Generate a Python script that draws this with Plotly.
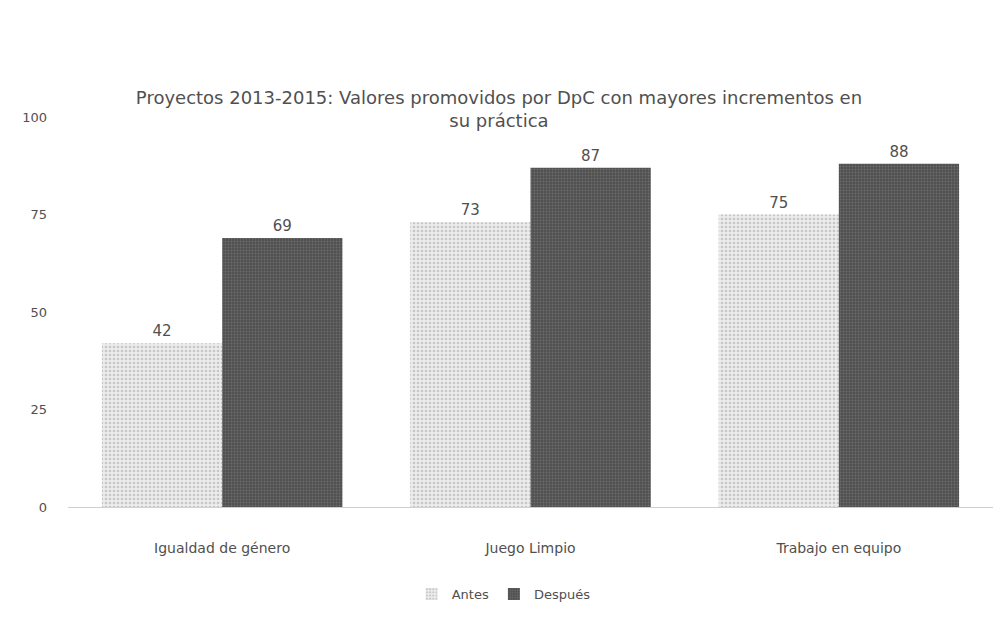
import plotly.graph_objects as go

categories = ["Igualdad de género", "Juego Limpio", "Trabajo en equipo"]
antes = [42, 73, 75]
despues = [69, 87, 88]
y_ticks = [0, 25, 50, 75, 100]

font_family = "DejaVu Sans, Liberation Sans, Arial, sans-serif"
txt_color = "#505050"

fig = go.Figure()
fig.add_trace(go.Bar(
    name="Antes", x=categories, y=antes,
    text=[str(v) for v in antes], textposition="outside",
    textfont=dict(size=15, color=txt_color, family=font_family),
    marker=dict(color="#e4e4e4",
                pattern=dict(shape=".", fgcolor="#a0a0a0", bgcolor="#ececec", size=4, solidity=0.35),
                line=dict(width=0)),
    cliponaxis=False,
))
fig.add_trace(go.Bar(
    name="Después", x=categories, y=despues,
    text=[str(v) for v in despues], textposition="outside",
    textfont=dict(size=15, color=txt_color, family=font_family),
    marker=dict(color="#5a5a5a",
                pattern=dict(shape=".", fgcolor="#8a8a8a", bgcolor="#505050", size=3, solidity=0.3),
                line=dict(width=0)),
    cliponaxis=False,
))

fig.update_layout(
    width=1002, height=624,
    paper_bgcolor="white", plot_bgcolor="white",
    margin=dict(l=60, r=17, t=109, b=125),
    barmode="group", bargap=0.22, bargroupgap=0,
    title=dict(
        text="Proyectos 2013-2015: Valores promovidos por DpC con mayores incrementos en<br>su práctica",
        x=0.49, xanchor="center", yref="container", y=1 - 96 / 624, yanchor="middle",
        font=dict(size=18, color=txt_color, family=font_family),
    ),
    font=dict(family=font_family, color=txt_color),
    legend=dict(orientation="h", x=0.471, xanchor="center", yref="container", y=1 - 586 / 624,
                yanchor="middle", font=dict(size=13, color=txt_color), traceorder="normal"),
    xaxis=dict(showgrid=False, showline=True, linecolor="#cfcfcf", linewidth=1,
               tickfont=dict(size=14, color=txt_color), ticks="", ticklabelstandoff=28),
    yaxis=dict(range=[0, 100], tickvals=y_ticks, showgrid=False, zeroline=False,
               showline=False, tickfont=dict(size=13, color=txt_color),
               ticklabelstandoff=20),
)

fig.write_html("out.html")
